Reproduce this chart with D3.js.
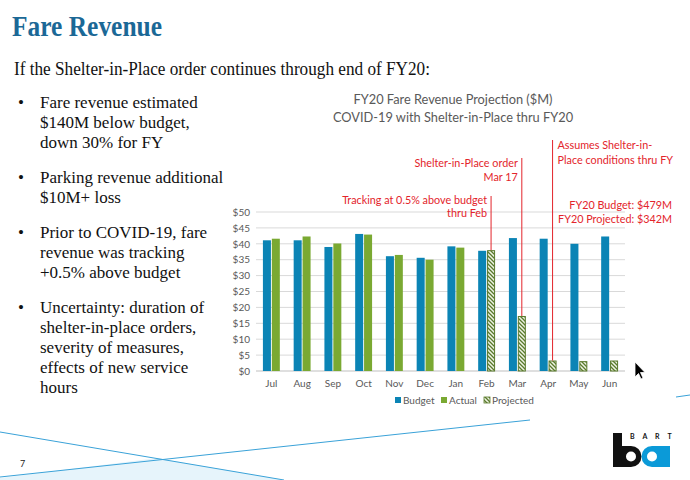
<!DOCTYPE html>
<html><head><meta charset="utf-8">
<script src="https://cdn.jsdelivr.net/npm/d3@7/dist/d3.min.js"></script>
<style>body{margin:0;background:#fff}svg{display:block}</style>
</head><body><svg id="c" width="690" height="480"></svg>
<script>
const months = ["Jul","Aug","Sep","Oct","Nov","Dec","Jan","Feb","Mar","Apr","May","Jun"];
const budget = [41.1,41.1,39.0,43.1,36.1,35.6,39.2,37.8,41.8,41.6,40.0,42.3];
const actual = [41.6,42.3,40.1,42.9,36.5,35.0,38.8,null,null,null,null,null];
const projected = [null,null,null,null,null,null,null,38.0,17.3,3.3,3.1,3.3];
const yTicks = [0,5,10,15,20,25,30,35,40,45,50];
const legendLabels = ["Budget","Actual","Projected"];
const bullets = [
  ["Fare revenue estimated","$140M below budget,","down 30% for FY"],
  ["Parking revenue additional","$10M+ loss"],
  ["Prior to COVID-19, fare","revenue was tracking","+0.5% above budget"],
  ["Uncertainty: duration of","shelter-in-place orders,","severity of measures,","effects of new service","hours"]
];
const annotations = [
  {month:"Feb", top:196, lines:["Tracking at 0.5% above budget","thru Feb"], side:"left", ty:[204,217]},
  {month:"Mar", top:158, lines:["Shelter-in-Place order","Mar 17"], side:"left", ty:[167,181]},
  {month:"Apr", top:140, lines:["Assumes Shelter-in-","Place conditions thru FY"], side:"right", ty:[149,164]}
];

const svg = d3.select("#c");
const C_BUD="#0b84b5", C_ACT="#7aa932", C_PROJ="#5a7a2c", RED="#e3242b", GRAY="#595959";
const sans = "Lato, 'Open Sans', sans-serif";
const serif = "'Liberation Serif', 'DejaVu Serif', serif";
const RS = 10.8;

// background decoration
svg.append("path").attr("d","M0,478 L157,458 L284,480 L0,480 Z").attr("fill","#e6f4fb");
svg.append("line").attr("x1",0).attr("y1",432).attr("x2",284).attr("y2",480).attr("stroke","#3aa2d8").attr("stroke-width",1);
svg.append("line").attr("x1",0).attr("y1",477).attr("x2",530).attr("y2",420).attr("stroke","#3aa2d8").attr("stroke-width",1);
svg.append("line").attr("x1",676).attr("y1",397).attr("x2",690).attr("y2",395).attr("stroke","#3aa2d8").attr("stroke-width",1);

// slide title & text
svg.append("text").attr("x",12).attr("y",36).attr("font-family",serif).attr("font-weight","bold")
  .attr("font-size",30).attr("fill","#1b6896").attr("textLength",150).attr("lengthAdjust","spacingAndGlyphs").text("Fare Revenue");
svg.append("text").attr("x",14).attr("y",75).attr("font-family",serif).attr("font-size",19.5)
  .attr("fill","#111").attr("textLength",416).attr("lengthAdjust","spacingAndGlyphs")
  .text("If the Shelter-in-Place order continues through end of FY20:");
const bulletStarts=[108,183,238,313];
bullets.forEach((b,i)=>{
  svg.append("text").attr("x",18).attr("y",bulletStarts[i]).attr("font-family",serif).attr("font-size",17).attr("fill","#111").text("•");
  b.forEach((t,j)=>{
    svg.append("text").attr("x",40).attr("y",bulletStarts[i]+j*20).attr("font-family",serif)
      .attr("font-size",17).attr("fill","#111").text(t);
  });
});
svg.append("text").attr("x",20).attr("y",467).attr("font-family",sans).attr("font-size",9).attr("fill","#222").text("7");

// pattern
const defs = svg.append("defs");
const pat = defs.append("pattern").attr("id","hatch").attr("patternUnits","userSpaceOnUse").attr("width",4).attr("height",4);
pat.append("rect").attr("width",4).attr("height",4).attr("fill","#eef3e4");
pat.append("path").attr("d","M-1,-1 L5,5 M-1,3 L1,5 M3,-1 L5,1").attr("stroke",C_PROJ).attr("stroke-width",1.3);

// chart
const x0 = d3.scaleBand().domain(months).range([256,625]).paddingInner(0.45).paddingOuter(0.225);
const x1 = d3.scaleBand().domain(["a","b"]).range([0,x0.bandwidth()]).paddingInner(0.1);
const y = d3.scaleLinear().domain([0,50]).range([371,212]);

svg.append("g").selectAll("line").data(yTicks).join("line")
  .attr("x1",256).attr("x2",625).attr("y1",d=>y(d)).attr("y2",d=>y(d))
  .attr("stroke",d=>d===0?"#bfbfbf":"#d9d9d9").attr("stroke-width",1);

const yAxis = d3.axisLeft(y).tickValues(yTicks).tickFormat(d=>"$"+d).tickSize(0).tickPadding(6);
const ga = svg.append("g").attr("transform","translate(256,0)").call(yAxis);
ga.select(".domain").remove();
ga.selectAll("text").attr("font-family",sans).attr("font-size",10).attr("fill",GRAY);

const xAxis = d3.axisBottom(x0).tickSize(0).tickPadding(9);
const gx = svg.append("g").attr("transform","translate(0,371)").call(xAxis);
gx.select(".domain").remove();
gx.selectAll("text").attr("font-family",sans).attr("font-size",10).attr("fill",GRAY);

const g = svg.append("g");
months.forEach((m,i)=>{
  g.append("rect").attr("x",x0(m)+x1("a")).attr("width",x1.bandwidth())
    .attr("y",y(budget[i])).attr("height",y(0)-y(budget[i])).attr("fill",C_BUD);
  if(actual[i]!=null){
    g.append("rect").attr("x",x0(m)+x1("b")).attr("width",x1.bandwidth())
      .attr("y",y(actual[i])).attr("height",y(0)-y(actual[i])).attr("fill",C_ACT);
  }
  if(projected[i]!=null){
    g.append("rect").attr("x",x0(m)+x1("b")+0.5).attr("width",x1.bandwidth()-1)
      .attr("y",y(projected[i])+0.5).attr("height",y(0)-y(projected[i])-0.5)
      .attr("fill","url(#hatch)").attr("stroke",C_PROJ).attr("stroke-width",1);
  }
});

// annotations
annotations.forEach(a=>{
  const i = months.indexOf(a.month);
  const xc = x0(a.month)+x1("b")+x1.bandwidth()/2;
  svg.append("line").attr("x1",xc).attr("x2",xc).attr("y1",a.top).attr("y2",y(projected[i]))
    .attr("stroke",RED).attr("stroke-width",1);
  a.lines.forEach((t,j)=>{
    svg.append("text").attr("x",a.side==="left"?xc-4:xc+5).attr("y",a.ty[j])
      .attr("text-anchor",a.side==="left"?"end":"start")
      .attr("font-family",sans).attr("font-size",RS).attr("fill",RED).text(t);
  });
});
const budTot = d3.sum(budget), projTot = d3.sum(actual.map((v,i)=>v!=null?v:projected[i]));
svg.append("text").attr("x",672).attr("y",209).attr("text-anchor","end").attr("font-family",sans)
  .attr("font-size",RS).attr("fill",RED).text("FY20 Budget: $"+Math.round(budTot)+"M");
svg.append("text").attr("x",672).attr("y",223).attr("text-anchor","end").attr("font-family",sans)
  .attr("font-size",RS).attr("fill",RED).text("FY20 Projected: $"+Math.round(projTot)+"M");

// chart title
svg.append("text").attr("x",453).attr("y",104).attr("text-anchor","middle").attr("font-family",sans)
  .attr("font-size",12.8).attr("fill",GRAY).text("FY20 Fare Revenue Projection ($M)");
svg.append("text").attr("x",453).attr("y",122).attr("text-anchor","middle").attr("font-family",sans)
  .attr("font-size",12.8).attr("fill",GRAY).text("COVID-19 with Shelter-in-Place thru FY20");

// legend
const lx=[395,441,484], fills=[C_BUD,C_ACT,"url(#hatch)"];
legendLabels.forEach((l,i)=>{
  svg.append("rect").attr("x",lx[i]).attr("y",397).attr("width",6).attr("height",6).attr("fill",fills[i])
    .attr("stroke",i===2?C_PROJ:"none").attr("stroke-width",0.8);
  svg.append("text").attr("x",lx[i]+8).attr("y",404).attr("font-family",sans).attr("font-size",10)
    .attr("fill",GRAY).text(l);
});

// cursor
svg.append("path").attr("d","M635,362 L635,377 L638.5,373.5 L641,379 L643,378 L640.5,372.5 L645,372.5 Z")
  .attr("fill","#000").attr("stroke","#fff").attr("stroke-width",0.8);

// BART logo
const lg = svg.append("g");
["B","A","R","T"].forEach((c,i)=>{
  lg.append("text").attr("x",630+i*12.5).attr("y",439).attr("font-family",sans).attr("font-weight","bold")
    .attr("font-size",7).attr("fill","#111").text(c);
});
lg.append("rect").attr("x",613).attr("y",433).attr("width",9).attr("height",34).attr("fill","#111");
lg.append("rect").attr("x",613).attr("y",446).attr("width",18).attr("height",21).attr("fill","#111");
lg.append("circle").attr("cx",631).attr("cy",456.5).attr("r",10.5).attr("fill","#111");
lg.append("circle").attr("cx",631).attr("cy",456.5).attr("r",5).attr("fill","#fff");
lg.append("circle").attr("cx",652).attr("cy",456.5).attr("r",10.5).attr("fill","#0b9ad8");
lg.append("rect").attr("x",652).attr("y",446).attr("width",18).attr("height",21).attr("fill","#0b9ad8");
lg.append("circle").attr("cx",652).attr("cy",456.5).attr("r",5).attr("fill","#fff");
</script></body></html>
